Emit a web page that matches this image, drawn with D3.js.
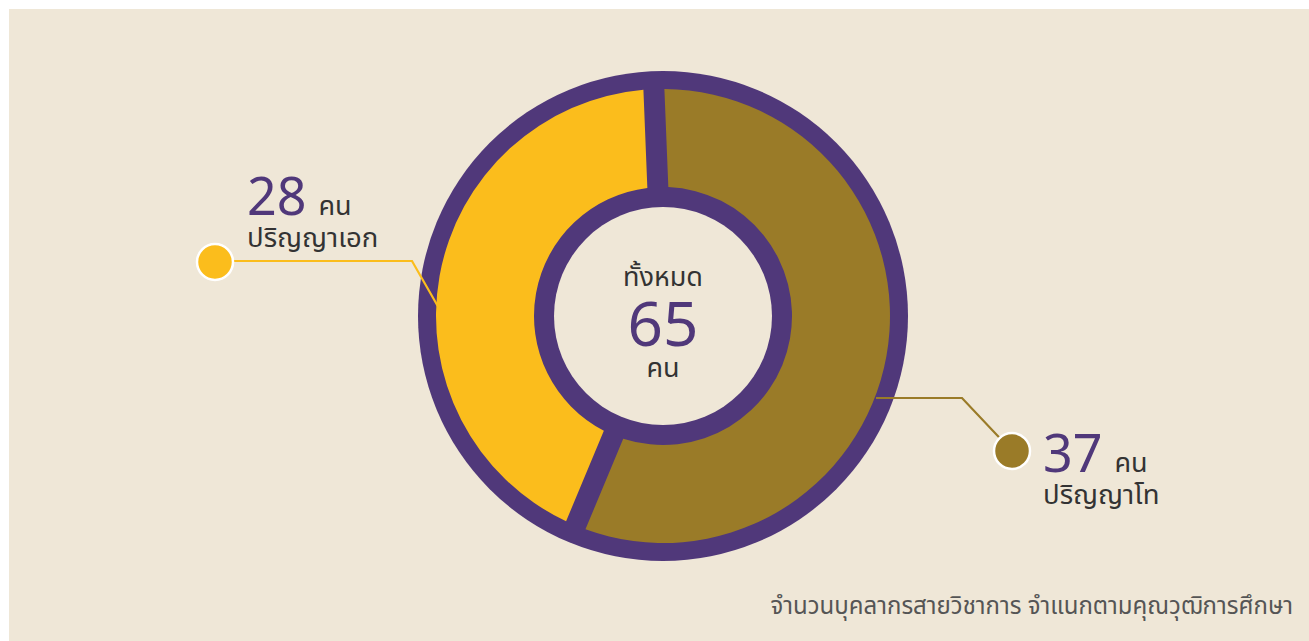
<!DOCTYPE html>
<html><head><meta charset="utf-8">
<script src="https://cdn.jsdelivr.net/npm/d3@7"></script>
<style>
html,body{margin:0;padding:0;background:#fff;}
svg{display:block;}
text{font-family:"Noto Sans Thai","Noto Sans","Open Sans",sans-serif;}
</style></head><body>
<svg id="c" width="1309" height="641"></svg>
<script>
const categories = ["ปริญญาโท", "ปริญญาเอก"];
const values = [37, 28];
const unit = "คน";
const totalLabel = "ทั้งหมด";
const caption = "จำนวนบุคลากรสายวิชาการ จำแนกตามคุณวุฒิการศึกษา";
const colors = ["#9a7b28", "#fbbd1c"];

const purple = "#50387a", beige = "#efe7d7", dark = "#333333";
const svg = d3.select("#c");
svg.append("rect").attr("x", 9).attr("y", 9).attr("width", 1300).attr("height", 632).attr("fill", beige);

const cx = 663, cy = 316;
const g = svg.append("g").attr("transform", `translate(${cx},${cy})`);
g.append("circle").attr("r", 245).attr("fill", purple);

const start = -2.3 * Math.PI / 180;
const pie = d3.pie().sort(null).startAngle(start).endAngle(start + 2 * Math.PI);
const arcs = pie(values);
const rIn = 129, rOut = 227;
const arc = d3.arc().innerRadius(rIn).outerRadius(rOut).padAngle(21 / 178).padRadius(178);
g.selectAll("path.s").data(arcs).join("path").attr("class", "s")
  .attr("d", arc).attr("fill", (d, i) => colors[i]);
g.append("circle").attr("r", 109).attr("fill", beige);

const total = d3.sum(values);
g.append("text").attr("text-anchor", "middle").attr("y", -30).attr("font-size", 27).attr("fill", dark).text(totalLabel);
g.append("text").attr("text-anchor", "middle").attr("y", 30).attr("font-size", 62).attr("fill", purple).text(total);
g.append("text").attr("text-anchor", "middle").attr("y", 61).attr("font-size", 27).attr("fill", dark).text(unit);

// leader lines
function leader(pts, color) {
  svg.append("path").attr("d", d3.line()(pts)).attr("fill", "none").attr("stroke", color).attr("stroke-width", 2.2);
}
leader([[215, 261], [412, 261], [440, 310]], colors[1]);
leader([[876, 398], [962, 398], [1012, 451]], colors[0]);
[[215, 262, colors[1]], [1012, 451, colors[0]]].forEach(([x, y, c]) => {
  svg.append("circle").attr("cx", x).attr("cy", y).attr("r", 18).attr("fill", c).attr("stroke", "#fff").attr("stroke-width", 2.5);
});

function label(x, y, v, name) {
  const t = svg.append("text").attr("x", x).attr("y", y);
  t.append("tspan").attr("font-size", 52).attr("fill", purple).text(v);
  t.append("tspan").attr("font-size", 27).attr("fill", dark).attr("dx", 12).text(unit);
  svg.append("text").attr("x", x).attr("y", y + 32).attr("font-size", 27.5).attr("fill", dark).text(name);
}
label(247, 215, values[1], categories[1]);
label(1043, 472, values[0], categories[0]);

svg.append("text").attr("x", 1293).attr("y", 614).attr("text-anchor", "end").attr("font-size", 24).attr("fill", "#555").text(caption);
</script></body></html>
